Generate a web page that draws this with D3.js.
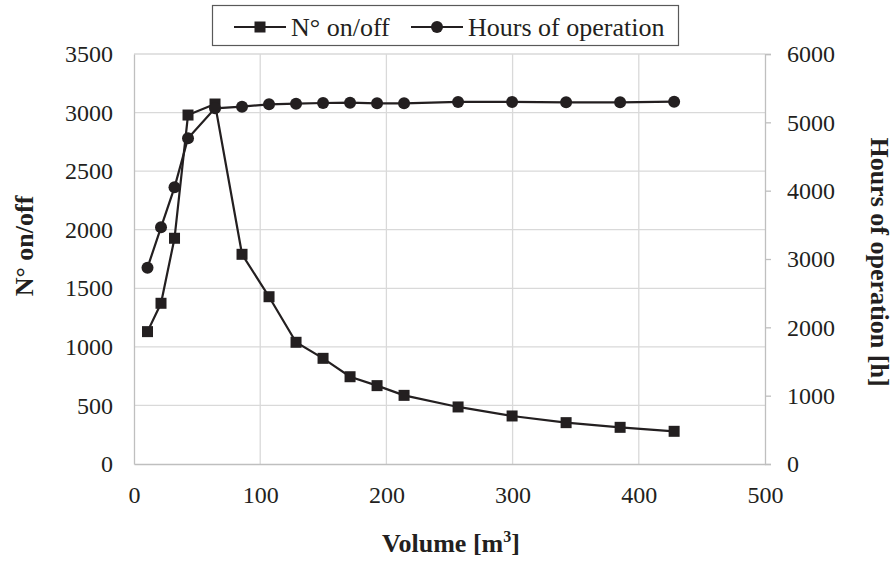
<!DOCTYPE html>
<html>
<head>
<meta charset="utf-8">
<script src="https://cdn.jsdelivr.net/npm/d3@7"></script>
<style>
  html, body { margin: 0; padding: 0; background: #fff; }
  svg { display: block; font-family: "Liberation Serif", "Times New Roman", serif; }
</style>
</head>
<body>
<svg id="chart" width="895" height="562"></svg>
<script>
// Tank volume [m3]
const volume = [10.7, 21.4, 32.1, 42.8, 64.2, 85.6, 107, 128.4, 149.8, 171.2, 192.6, 214, 256.8, 299.6, 342.4, 385.2, 428];
// Number of on/off cycles (left axis)
const onOff = [1130, 1372, 1927, 2979, 3073, 1790, 1428, 1039, 902, 745, 669, 586, 487, 410, 353, 313, 279];
// Hours of operation (right axis)
const hours = [2873, 3464, 4049, 4766, 5205, 5229, 5264, 5273, 5283, 5287, 5278, 5278, 5298, 5298, 5293, 5293, 5302];

const xTicks = [0, 100, 200, 300, 400, 500];
const leftTicks = [0, 500, 1000, 1500, 2000, 2500, 3000, 3500];
const rightTicks = [0, 1000, 2000, 3000, 4000, 5000, 6000];

const ink = "#231f20";
const gridColor = "#d9d9d9";
const axisColor = "#bfbfbf";
const serif = '"Liberation Serif", "Times New Roman", serif';

const svg = d3.select("#chart");
const x = d3.scaleLinear().domain([0, 500]).range([134, 765]);
const yL = d3.scaleLinear().domain([0, 3500]).range([464, 54]);
const yR = d3.scaleLinear().domain([0, 6000]).range([464, 54]);

// Gridlines
svg.append("g").selectAll("line").data(leftTicks.filter(d => d > 0)).join("line")
  .attr("x1", x(0)).attr("x2", x(500))
  .attr("y1", d => yL(d)).attr("y2", d => yL(d))
  .attr("stroke", gridColor).attr("stroke-width", 1.3);
svg.append("g").selectAll("line").data(xTicks.filter(d => d > 0 && d < 500)).join("line")
  .attr("x1", d => x(d)).attr("x2", d => x(d))
  .attr("y1", yL(0)).attr("y2", yL(3500))
  .attr("stroke", gridColor).attr("stroke-width", 1.3);

// Axes
const bottomAxis = svg.append("g").attr("transform", `translate(0,${yL(0)})`)
  .call(d3.axisBottom(x).tickValues(xTicks).tickSize(0).tickPadding(22).tickFormat(d3.format("d")));
const leftAxis = svg.append("g").attr("transform", `translate(${x(0)},0)`)
  .call(d3.axisLeft(yL).tickValues(leftTicks).tickSize(0).tickPadding(21).tickFormat(d3.format("d")));
const rightAxis = svg.append("g").attr("transform", `translate(${x(500)},0)`)
  .call(d3.axisRight(yR).tickValues(rightTicks).tickSize(6).tickPadding(16).tickFormat(d3.format("d")));

[bottomAxis, leftAxis, rightAxis].forEach(g => {
  g.select(".domain").attr("stroke", axisColor).attr("stroke-width", 1.3);
  g.selectAll(".tick line").attr("stroke", axisColor).attr("stroke-width", 1.3);
  g.selectAll(".tick text").attr("fill", ink)
    .style("font-family", serif)
    .style("font-size", "24px");
});
bottomAxis.selectAll(".tick text").attr("dy", "0.71em");

// Series lines
const lineL = d3.line().x((d, i) => x(volume[i])).y(d => yL(d));
const lineR = d3.line().x((d, i) => x(volume[i])).y(d => yR(d));

svg.append("path").datum(onOff).attr("d", lineL)
  .attr("fill", "none").attr("stroke", ink).attr("stroke-width", 2.2);
svg.append("path").datum(hours).attr("d", lineR)
  .attr("fill", "none").attr("stroke", ink).attr("stroke-width", 2.2);

// Markers
const sq = 11;
svg.append("g").selectAll("rect").data(onOff).join("rect")
  .attr("x", (d, i) => x(volume[i]) - sq / 2)
  .attr("y", d => yL(d) - sq / 2)
  .attr("width", sq).attr("height", sq).attr("fill", ink);
svg.append("g").selectAll("circle").data(hours).join("circle")
  .attr("cx", (d, i) => x(volume[i]))
  .attr("cy", d => yR(d))
  .attr("r", 6).attr("fill", ink);

// Axis titles
const xTitle = svg.append("text").attr("x", 451).attr("y", 552).attr("text-anchor", "middle")
  .attr("font-weight", "bold").attr("font-size", 26).attr("fill", ink);
xTitle.append("tspan").text("Volume [m");
xTitle.append("tspan").attr("font-size", 16).attr("dy", -10).text("3");
xTitle.append("tspan").attr("dy", 10).text("]");

svg.append("text")
  .attr("transform", "translate(33,246) rotate(-90)")
  .attr("text-anchor", "middle")
  .attr("font-weight", "bold").attr("font-size", 26).attr("fill", ink)
  .text("N° on/off");

svg.append("text")
  .attr("transform", "translate(871,262) rotate(90)")
  .attr("text-anchor", "middle")
  .attr("font-weight", "bold").attr("font-size", 26).attr("fill", ink)
  .text("Hours of operation [h]");

// Legend
const legend = svg.append("g");
legend.append("rect").attr("x", 212.5).attr("y", 5.5).attr("width", 466).attr("height", 40)
  .attr("fill", "#fff").attr("stroke", "#595959").attr("stroke-width", 1.2);

const legendItems = [
  { label: "N° on/off", x0: 234, marker: "square" },
  { label: "Hours of operation", x0: 411, marker: "circle" }
];
const legY = 27;
legendItems.forEach(item => {
  const g = legend.append("g");
  g.append("line").attr("x1", item.x0).attr("x2", item.x0 + 52)
    .attr("y1", legY).attr("y2", legY).attr("stroke", ink).attr("stroke-width", 2.2);
  if (item.marker === "square") {
    g.append("rect").attr("x", item.x0 + 26 - sq / 2).attr("y", legY - sq / 2)
      .attr("width", sq).attr("height", sq).attr("fill", ink);
  } else {
    g.append("circle").attr("cx", item.x0 + 26).attr("cy", legY).attr("r", 6).attr("fill", ink);
  }
  g.append("text").attr("x", item.x0 + 57).attr("y", 36)
    .attr("font-size", 26).attr("fill", ink).text(item.label);
});
</script>
</body>
</html>
